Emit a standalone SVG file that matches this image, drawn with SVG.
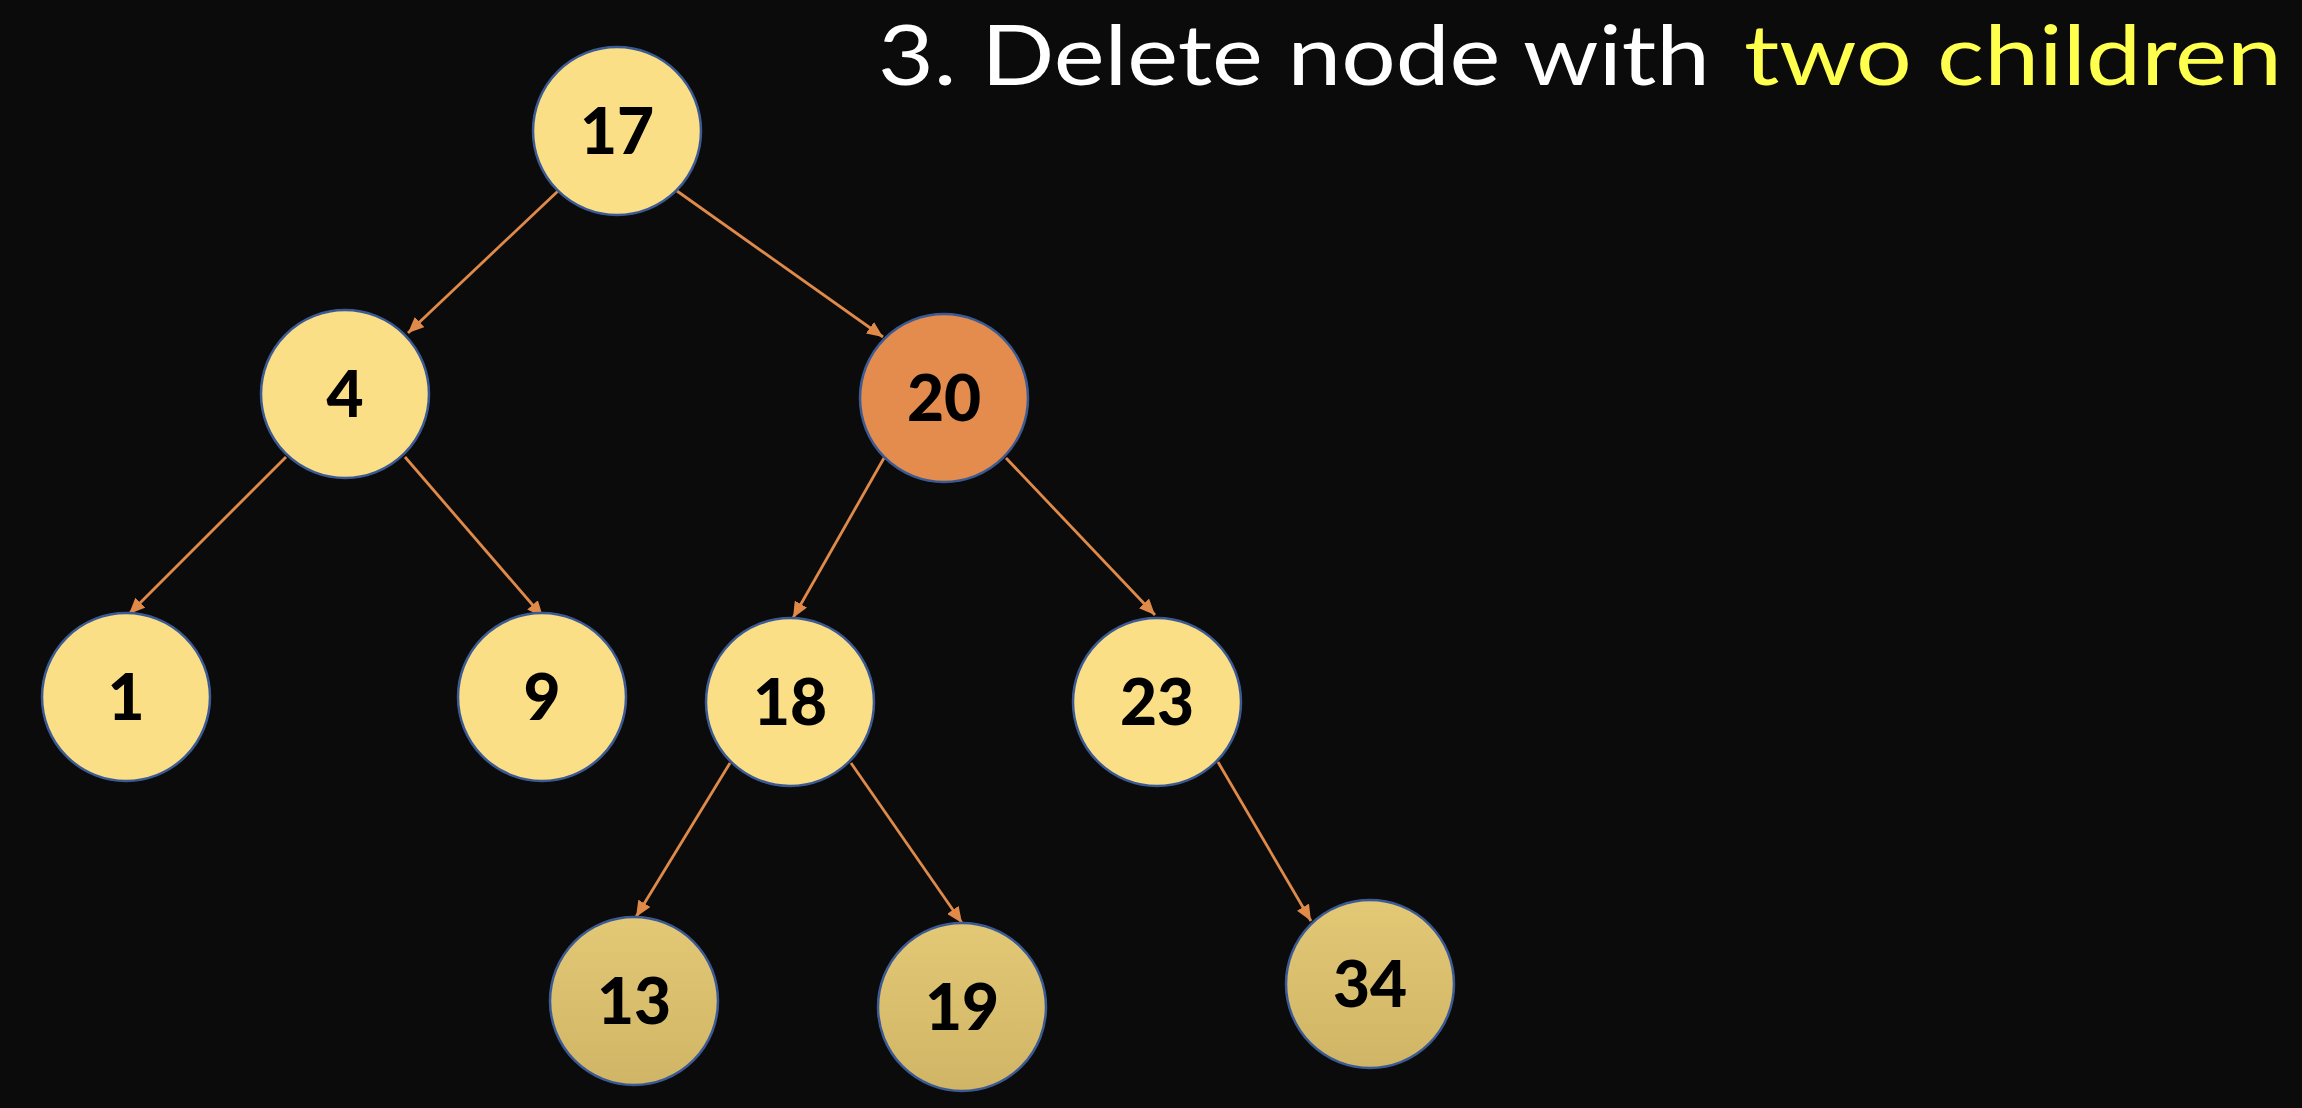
<svg xmlns="http://www.w3.org/2000/svg" width="2302" height="1108" viewBox="0 0 2302 1108">
<style>
.bg{fill:#0b0b0b}
.node{fill:#fadf87;stroke:#3b5a94;stroke-width:2.5}
.low{fill:url(#lowgrad)}
.hot{fill:#e38c4d}
.lbl{font-family:Lato,"Open Sans","Liberation Sans",sans-serif;font-weight:900;font-size:64px;fill:#000;text-anchor:middle}
.edge{stroke:#e08a4a;stroke-width:2.8;fill:none;marker-end:url(#arr)}
.title{font-family:Lato,"Open Sans","Liberation Sans",sans-serif;font-size:84px}
</style>
<defs>
<linearGradient id="lowgrad" x1="0" y1="0" x2="0" y2="1">
<stop offset="0" stop-color="#e3c876"/>
<stop offset="1" stop-color="#cfb565"/>
</linearGradient>
<marker id="arr" markerUnits="userSpaceOnUse" markerWidth="18" markerHeight="14" refX="16" refY="7" orient="auto">
<path d="M0,0 L16,7 L0,14 Z" fill="#e08a4a"/>
</marker>
</defs>
<rect class="bg" x="0" y="0" width="2302" height="1108"/>
<text class="title" x="878" y="85" fill="#ffffff" textLength="832" lengthAdjust="spacingAndGlyphs">3. Delete node with</text>
<text class="title" x="1744" y="85" fill="#ffff4d" textLength="538" lengthAdjust="spacingAndGlyphs">two children</text>
<g id="connectors">
<line class="edge" x1="558" y1="191" x2="408" y2="333"/>
<line class="edge" x1="677" y1="191" x2="883" y2="337"/>
<line class="edge" x1="286" y1="457" x2="129" y2="614"/>
<line class="edge" x1="405" y1="457" x2="543" y2="617"/>
<line class="edge" x1="884" y1="458" x2="793" y2="618"/>
<line class="edge" x1="1006" y1="458" x2="1155" y2="615"/>
<line class="edge" x1="730" y1="763" x2="636" y2="917"/>
<line class="edge" x1="851" y1="763" x2="962" y2="923"/>
<line class="edge" x1="1218" y1="762" x2="1311" y2="921"/>
</g>
<g id="n17"><circle class="node" cx="617" cy="131" r="84"/><text class="lbl" x="617" y="154">17</text></g>
<g id="n4"><circle class="node" cx="345" cy="394" r="84"/><text class="lbl" x="345" y="417">4</text></g>
<g id="n20"><circle class="node hot" cx="944" cy="398" r="84"/><text class="lbl" x="944" y="421">20</text></g>
<g id="n1"><circle class="node" cx="126" cy="697" r="84"/><text class="lbl" x="126" y="720">1</text></g>
<g id="n9"><circle class="node" cx="542" cy="697" r="84"/><text class="lbl" x="542" y="720">9</text></g>
<g id="n18"><circle class="node" cx="790" cy="702" r="84"/><text class="lbl" x="790" y="725">18</text></g>
<g id="n23"><circle class="node" cx="1157" cy="702" r="84"/><text class="lbl" x="1157" y="725">23</text></g>
<g id="n13"><circle class="node low" cx="634" cy="1001" r="84"/><text class="lbl" x="634" y="1024">13</text></g>
<g id="n19"><circle class="node low" cx="962" cy="1007" r="84"/><text class="lbl" x="962" y="1030">19</text></g>
<g id="n34"><circle class="node low" cx="1370" cy="984" r="84"/><text class="lbl" x="1370" y="1007">34</text></g>
</svg>
